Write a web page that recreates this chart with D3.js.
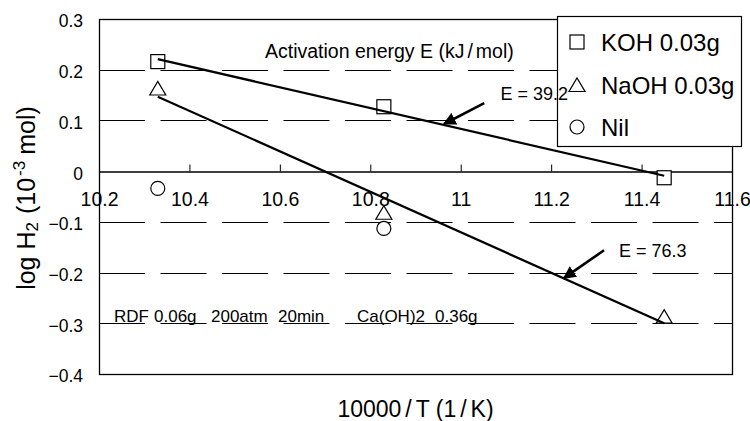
<!DOCTYPE html>
<html>
<head>
<meta charset="utf-8">
<script src="https://cdn.jsdelivr.net/npm/d3@7"></script>
<style>
html,body{margin:0;padding:0;background:#fff;}
svg{display:block;font-family:"Liberation Sans",Arial,sans-serif;}
</style>
</head>
<body>
<svg id="chart" width="750" height="421"></svg>
<script>
// ---- data ----
const xValues = [10.33, 10.83, 11.45];
const kohValues = [0.216, 0.127, -0.013];
const naohValues = [0.163, -0.082, -0.287];
const nilX = [10.33, 10.83];
const nilValues = [-0.034, -0.113];
const seriesNames = ["KOH 0.03g", "NaOH 0.03g", "Nil"];
const xTicks = [10.2, 10.4, 10.6, 10.8, 11, 11.2, 11.4, 11.6];
const yTicks = [-0.4, -0.3, -0.2, -0.1, 0, 0.1, 0.2, 0.3];
const gridValues = [0.2, 0.1, -0.1, -0.2, -0.3];
const energyLabels = ["E = 39.2", "E = 76.3"];
const conditionWords = ["RDF", "0.06g", "200atm", "20min", "Ca(OH)2", "0.36g"];

// ---- layout ----
const svg = d3.select("#chart");
const L = 99, R = 732, T = 19, B = 374;
const x = d3.scaleLinear().domain([10.2, 11.6]).range([L, R]);
const y = d3.scaleLinear().domain([-0.4, 0.3]).range([B, T]);
const font = "\"Liberation Sans\",Arial,sans-serif";

// gridlines (dashed)
svg.append("g").selectAll("line").data(gridValues).join("line")
  .attr("x1", L).attr("x2", R)
  .attr("y1", d => Math.round(y(d)) + 0.5).attr("y2", d => Math.round(y(d)) + 0.5)
  .attr("stroke", "#000").attr("stroke-width", 1)
  .attr("stroke-dasharray", "46,15.5");

// plot border
svg.append("rect").attr("x", L + 0.5).attr("y", T + 0.5)
  .attr("width", R - L).attr("height", B - T)
  .attr("fill", "none").attr("stroke", "#000").attr("stroke-width", 1.3);

// x axis at y = 0 with inward ticks
const xAxis = d3.axisBottom(x).tickValues(xTicks).tickSize(0).tickFormat(d3.format("~g"));
const gx = svg.append("g").attr("transform", `translate(0,${Math.round(y(0)) + 0.5})`).call(xAxis);
gx.select(".domain").attr("stroke", "#000").attr("stroke-width", 1.3);
gx.selectAll(".tick line").attr("y2", -7).attr("stroke", "#000");
gx.selectAll(".tick text").attr("font-family", font).attr("font-size", 19.5)
  .attr("fill", "#000").attr("y", 21).attr("dy", "0.71em");

// y axis labels
const yAxis = d3.axisLeft(y).tickValues(yTicks).tickSize(0).tickPadding(16).tickFormat(d3.format("~g"));
const gy = svg.append("g").attr("transform", `translate(${L},0)`).call(yAxis);
gy.select(".domain").remove();
gy.selectAll(".tick text").attr("font-family", font).attr("font-size", 17.5)
  .attr("fill", "#000").attr("dy", "0.45em");

// markers
const sq = 14;
svg.append("g").selectAll("rect").data(xValues.map((d, i) => [d, kohValues[i]])).join("rect")
  .attr("x", d => x(d[0]) - sq / 2).attr("y", d => y(d[1]) - sq / 2)
  .attr("width", sq).attr("height", sq)
  .attr("fill", "#fff").attr("stroke", "#000").attr("stroke-width", 1.2);
const triPath = "M-8,6.5L8,6.5L0,-7Z";
svg.append("g").selectAll("path").data(xValues.map((d, i) => [d, naohValues[i]])).join("path")
  .attr("d", triPath).attr("transform", d => `translate(${x(d[0])},${y(d[1])})`)
  .attr("fill", "#fff").attr("stroke", "#000").attr("stroke-width", 1.2);
svg.append("g").selectAll("circle").data(nilX.map((d, i) => [d, nilValues[i]])).join("circle")
  .attr("cx", d => x(d[0])).attr("cy", d => y(d[1])).attr("r", 7)
  .attr("fill", "#fff").attr("stroke", "#000").attr("stroke-width", 1.2);

// linear regression trend lines
function fit(xs, ys) {
  const mx = d3.mean(xs), my = d3.mean(ys);
  const sxy = d3.sum(xs, (d, i) => (d - mx) * (ys[i] - my));
  const sxx = d3.sum(xs, d => (d - mx) * (d - mx));
  const b = sxy / sxx;
  return v => my + b * (v - mx);
}
[kohValues, naohValues].forEach(vals => {
  const f = fit(xValues, vals);
  const x0 = d3.min(xValues), x1 = d3.max(xValues);
  svg.append("line").attr("x1", x(x0)).attr("y1", y(f(x0)))
    .attr("x2", x(x1)).attr("y2", y(f(x1)))
    .attr("stroke", "#000").attr("stroke-width", 2.2);
});

// arrows
svg.append("defs").append("marker").attr("id", "ah")
  .attr("viewBox", "0 0 10 10").attr("refX", 9).attr("refY", 5)
  .attr("markerWidth", 5).attr("markerHeight", 5).attr("orient", "auto")
  .attr("markerUnits", "strokeWidth")
  .append("path").attr("d", "M0,0L10,5L0,10Z").attr("fill", "#000");
const arrows = [
  {from: [11.052, 0.134], to: [10.963, 0.093]},
  {from: [11.317, -0.156], to: [11.228, -0.211]}
];
svg.append("g").selectAll("line").data(arrows).join("line")
  .attr("x1", d => x(d.from[0])).attr("y1", d => y(d.from[1]))
  .attr("x2", d => x(d.to[0])).attr("y2", d => y(d.to[1]))
  .attr("stroke", "#000").attr("stroke-width", 2.6).attr("marker-end", "url(#ah)");

// note title
const nt = svg.append("text").attr("x", 265).attr("y", 58)
  .attr("font-family", font).attr("font-size", 19.5).attr("fill", "#000");
nt.append("tspan").text("Activation energy E (kJ");
nt.append("tspan").attr("dx", 3).text("/");
nt.append("tspan").attr("dx", 3).text("mol)");

// conditions text
const condX = [114, 154, 211, 278, 357, 435];
svg.append("g").selectAll("text").data(conditionWords).join("text")
  .attr("x", (d, i) => condX[i]).attr("y", 322)
  .attr("font-family", font).attr("font-size", 17).attr("fill", "#000")
  .text(d => d);

// x title
const xt = svg.append("text").attr("x", (L + R) / 2).attr("y", 417)
  .attr("text-anchor", "middle").attr("font-family", font).attr("font-size", 23).attr("fill", "#000");
xt.append("tspan").text("10000");
xt.append("tspan").attr("dx", 4).text("/");
xt.append("tspan").attr("dx", 4).text("T (1");
xt.append("tspan").attr("dx", 4).text("/");
xt.append("tspan").attr("dx", 4).text("K)");

// y title
const yt = svg.append("text").attr("transform", "translate(35,198) rotate(-90)")
  .attr("text-anchor", "middle").attr("font-family", font).attr("font-size", 25).attr("fill", "#000");
yt.append("tspan").text("log H");
yt.append("tspan").attr("font-size", 17).attr("dy", 3).text("2");
yt.append("tspan").attr("dy", -3).attr("dx", 8).text("(10");
yt.append("tspan").attr("font-size", 17).attr("dy", -10).attr("dx", 2).text("-3");
yt.append("tspan").attr("dy", 10).attr("dx", 6).text("mol)");

// legend
const lg = svg.append("g");
lg.append("rect").attr("x", 557.5).attr("y", 16.5).attr("width", 184).attr("height", 130)
  .attr("fill", "#fff").attr("stroke", "#000").attr("stroke-width", 1.2);
const legY = [42, 85, 127];
const lx = 577;
lg.append("rect").attr("x", lx - 7).attr("y", legY[0] - 7).attr("width", 14).attr("height", 14)
  .attr("fill", "#fff").attr("stroke", "#000").attr("stroke-width", 1.2);
lg.append("path").attr("d", triPath).attr("transform", `translate(${lx},${legY[1]})`)
  .attr("fill", "#fff").attr("stroke", "#000").attr("stroke-width", 1.2);
lg.append("circle").attr("cx", lx).attr("cy", legY[2]).attr("r", 7)
  .attr("fill", "#fff").attr("stroke", "#000").attr("stroke-width", 1.2);
lg.selectAll("text.lt").data(seriesNames).join("text").attr("class", "lt")
  .attr("x", 601).attr("y", (d, i) => legY[i] + 9)
  .attr("font-family", font).attr("font-size", 24).attr("fill", "#000").text(d => d);

// energy labels (drawn above the legend, as in the original)
const energyPos = [[11.088, 0.141], [11.35, -0.17]];
svg.append("g").selectAll("text").data(energyLabels).join("text")
  .attr("x", (d, i) => x(energyPos[i][0])).attr("y", (d, i) => y(energyPos[i][1]))
  .attr("font-family", font).attr("font-size", 18).attr("fill", "#000").text(d => d);
</script>
</body>
</html>
